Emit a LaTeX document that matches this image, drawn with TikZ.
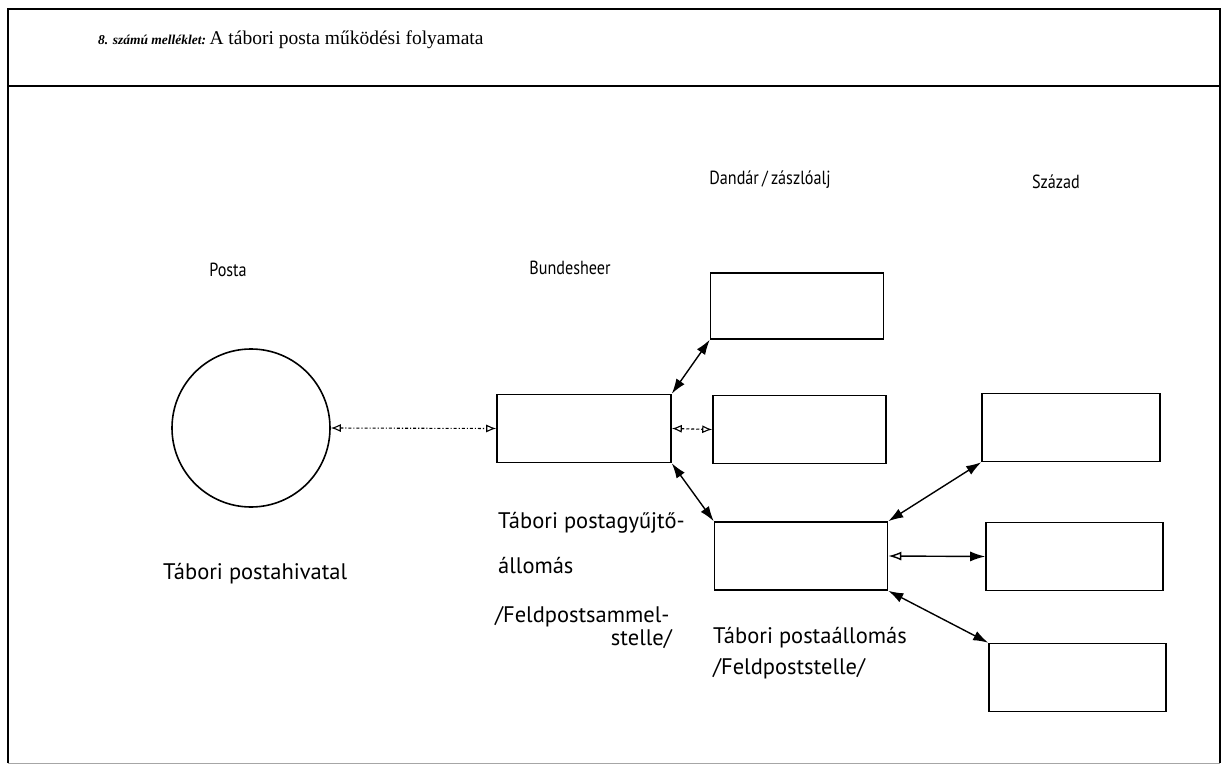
\documentclass[tikz,border=0pt]{standalone}
\usepackage{fontspec}
\setmainfont{PT Sans}
\newfontfamily\keskeny[FakeStretch=0.85]{PT Sans}
\newfontfamily\cimfont{Liberation Serif}
\usetikzlibrary{arrows.meta, positioning}
\tikzstyle{doboz} = [draw, line width=1.6pt, rectangle, minimum width=173pt, minimum height=68pt, inner sep=0pt]
\tikzstyle{felirat} = [font=\fontsize{22.5}{27}\selectfont, inner sep=0pt]
\tikzstyle{fejlec} = [font=\keskeny\fontsize{19}{23}\selectfont, inner sep=0pt]
\tikzstyle{nyil} = [line width=1.4pt, {Latex[length=15pt,width=10pt]}-{Latex[length=15pt,width=10pt]}]
\tikzstyle{nyilures} = [line width=1.1pt, {Latex[open,length=10pt,width=8pt]}-{Latex[open,length=10pt,width=8pt]}]

\begin{document}
\begin{tikzpicture}[x=1pt,y=-1pt]
	\useasboundingbox (0,0) rectangle (1225,767);
	\draw[line width=1.5pt] (8,763) -- (8,9) -- (1220,9) -- (1220,763);
	\draw[line width=1.5pt] (8,86) -- (1220,86);
	\draw[line width=1pt, black!35] (8,763) -- (1220,763);
	\node[anchor=base west, inner sep=0pt] (cim) at (98,45) {\cimfont{\fontsize{13.5}{16}\selectfont\bfseries\itshape 8. számú melléklet:} \fontsize{19.5}{23}\selectfont A tábori posta működési folyamata};

	\node[draw, circle, line width=1.6pt, minimum size=158pt, inner sep=0pt] (posta) at (251,428) {};
	\node[doboz, minimum width=174pt] (bundesheer) at (584,428.5) {};
	\node[doboz, minimum height=66pt] (dandar1) at (797,306) {};
	\node[doboz] (dandar2) at (799.5,429.5) {};
	\node[doboz] (allomas) at (801,556) {};
	\node[doboz, minimum width=178pt] (szazad1) at (1071,427.5) {};
	\node[doboz, minimum width=177pt] (szazad2) at (1074.5,556.5) {};
	\node[doboz, minimum width=177pt] (szazad3) at (1077.5,677.5) {};

	\node[fejlec] (postafej) at (228,270) {Posta};
	\node[fejlec] (bundesfej) at (570,268) {Bundesheer};
	\node[fejlec] (dandarfej) at (770,180) {Dandár\,/\,zászlóalj};
	\node[fejlec] (szazadfej) at (1056,182) {Század};

	\node[felirat, anchor=west] (hivatal) at (163,574) {Tábori postahivatal};
	\node[felirat, anchor=west] (gyujto1) at (498,523) {Tábori postagyűjtő-};
	\node[felirat, anchor=west] (gyujto2) at (498,566) {állomás};
	\node[felirat, anchor=west] (gyujto3) at (495,617) {/Feldpostsammel-};
	\node[felirat, anchor=east] (gyujto4) at (672,639) {stelle/};
	\node[felirat, anchor=west] (allomas1) at (713,638) {Tábori postaállomás};
	\node[felirat, anchor=west] (allomas2) at (713,669) {/Feldpoststelle/};

	\draw[nyilures, dash dot] (posta.east) -- (bundesheer.west);
	\draw[nyilures, densely dashed] (bundesheer.east) -- (dandar2.west);
	\draw[nyil] (bundesheer.north east) -- (dandar1.south west);
	\draw[nyil] (bundesheer.south east) -- (allomas.north west);
	\draw[nyil] (allomas.north east) -- (szazad1.south west);
	\draw[nyil, {Latex[open,length=13pt,width=9pt]}-{Latex[length=15pt,width=10pt]}] (allomas.east) -- (szazad2.west);
	\draw[nyil] (allomas.south east) -- (szazad3.north west);
\end{tikzpicture}
\end{document}
